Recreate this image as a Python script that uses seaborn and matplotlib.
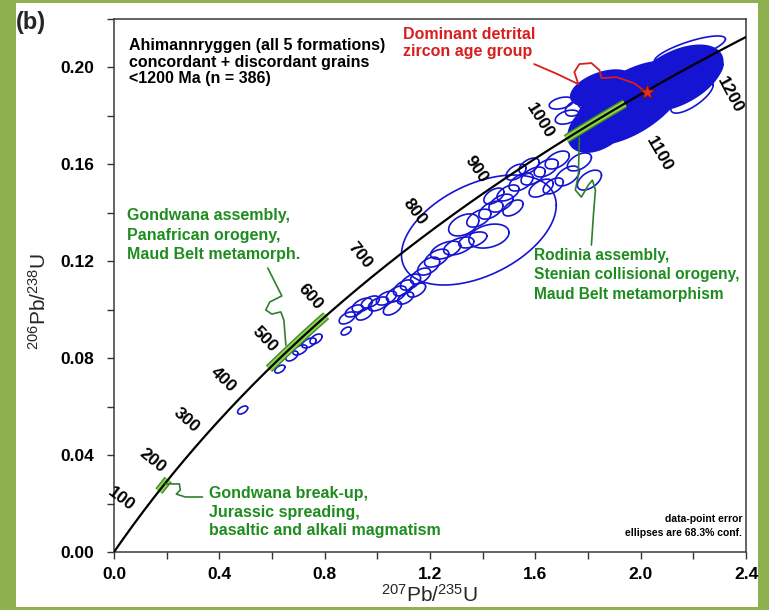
import numpy as np
import pandas as pd
import matplotlib
matplotlib.use("Agg")
import matplotlib.pyplot as plt
import seaborn as sns
from matplotlib.patches import Rectangle
from matplotlib.ticker import MultipleLocator

# ---------------- data ----------------
label_ages = [100, 200, 300, 400, 500, 600, 700, 800, 900, 1000, 1100, 1200]

# outline error ellipses: centre (207/235, 206/238), 1-sigma extents, correlation
ell_x = [0.4885, 0.6298, 0.6756, 0.7061, 0.7405, 0.7672, 0.8817,
         0.8855, 0.9122, 0.9427, 0.9733, 1.0038, 0.9504, 1.0344, 1.0573, 1.0725,
         1.0992, 1.1260, 1.1489, 1.1641, 1.1069,
         1.1947, 1.2252, 1.2595, 1.3092, 1.3626, 1.4237, 1.3282, 1.3855, 1.4313,
         1.4695, 1.4427, 1.4962, 1.5153, 1.5458, 1.5916, 1.6412, 1.5763, 1.5267,
         1.6221, 1.6832, 1.7214, 1.7672, 1.8053, 1.6679,
         1.6985, 1.7519, 1.7214, 1.7977, 1.8130,
         1.3855, 2.187, 2.195, 2.252]
ell_y = [0.0586, 0.0755, 0.0809, 0.0834, 0.0863, 0.0879, 0.0912,
         0.0966, 0.0995, 0.1019, 0.1032, 0.1024, 0.0982, 0.1048, 0.1007, 0.1065,
         0.1090, 0.1114, 0.1081, 0.1139, 0.1048,
         0.1180, 0.1213, 0.1246, 0.1263, 0.1288, 0.1304, 0.1350, 0.1378, 0.1411,
         0.1440, 0.1469, 0.1482, 0.1420, 0.1527, 0.1552, 0.1585, 0.1593, 0.1568,
         0.1502, 0.1618, 0.1552, 0.1610, 0.1535, 0.1511,
         0.1853, 0.1832, 0.1795, 0.1861, 0.1812,
         0.1329, 0.2072, 0.1878, 0.1969]
ell_sx = [0.0191, 0.0191, 0.0229, 0.0267, 0.0267, 0.0229, 0.0191,
          0.0305, 0.0344, 0.0382, 0.0344, 0.0382, 0.0305, 0.0382, 0.0344, 0.0382,
          0.0382, 0.0382, 0.0344, 0.0382, 0.0305,
          0.0420, 0.0458, 0.0573, 0.0573, 0.0534, 0.0763, 0.0573, 0.0458, 0.0458,
          0.0458, 0.0382, 0.0420, 0.0382, 0.0458, 0.0458, 0.0458, 0.0382, 0.0382,
          0.0458, 0.0458, 0.0458, 0.0458, 0.0458, 0.0382,
          0.0458, 0.0382, 0.0458, 0.0344, 0.0344,
          0.2939, 0.135, 0.0805, 0.060]
ell_sy = [0.00165, 0.00165, 0.00206, 0.00206, 0.00206, 0.00206, 0.00165,
          0.00248, 0.00248, 0.00289, 0.00248, 0.00289, 0.00248, 0.00289, 0.00289, 0.0033,
          0.0033, 0.0033, 0.00289, 0.0033, 0.00248,
          0.0037, 0.0037, 0.0037, 0.0037, 0.0033, 0.00495, 0.00454, 0.0037, 0.0037,
          0.0037, 0.0033, 0.0033, 0.0033, 0.0037, 0.0037, 0.0037, 0.0033, 0.0033,
          0.0037, 0.0037, 0.0041, 0.0037, 0.0041, 0.0033,
          0.00248, 0.0033, 0.00289, 0.00289, 0.00289,
          0.0227, 0.0058, 0.00665, 0.006]
ell_rho = [0.5, 0.5, 0.5, 0.5, 0.5, 0.5, 0.5,
           0.5, 0.5, 0.5, 0.5, 0.5, 0.5, 0.5, 0.5, 0.5,
           0.5, 0.5, 0.5, 0.5, 0.5,
           0.5, 0.5, 0.5, 0.5, 0.5, 0.3, 0.4, 0.5, 0.5,
           0.5, 0.5, 0.5, 0.5, 0.5, 0.5, 0.5, 0.5, 0.5,
           0.5, 0.5, 0.5, 0.5, 0.5, 0.5,
           0.4, 0.4, 0.4, 0.4, 0.4,
           0.45, 0.78, 0.75, 0.7]

# densely overlapping ellipses of the dominant group (drawn filled)
blob_x = [1.958, 2.137, 1.844, 1.851]
blob_y = [0.1853, 0.1956, 0.1762, 0.1915]
blob_sx = [0.2095, 0.1748, 0.1195, 0.1164]
blob_sy = [0.01717, 0.01354, 0.01114, 0.0074]
blob_rho = [0.58, 0.50, 0.41, 0.47]

star_x = [2.023]
star_y = [0.1899]

event_ages = [(160, 190), (470, 600), (1015, 1095)]

# annotation leader lines
red_lead_x = [1.5954, 1.6832, 1.7634, 1.7481, 1.7672, 1.8130, 1.8435, 1.8511, 1.9084, 1.9733, 2.0153]
red_lead_y = [0.2014, 0.1973, 0.1931, 0.1981, 0.2014, 0.2018, 0.1989, 0.1956, 0.1960, 0.1936, 0.1903]
gond_lead_x = [0.5840, 0.6374, 0.5916, 0.5763, 0.5992, 0.6336, 0.6450, 0.6527]
gond_lead_y = [0.1172, 0.1057, 0.1032, 0.0999, 0.0982, 0.0991, 0.0957, 0.0854]
rod_lead_x = [1.7672, 1.7634, 1.7519, 1.7748, 1.8015, 1.8168, 1.8282, 1.8206, 1.8130]
rod_lead_y = [0.1709, 0.1556, 0.1494, 0.1465, 0.1515, 0.1535, 0.1494, 0.1391, 0.1267]
brk_lead_x = [0.1947, 0.2481, 0.2519, 0.2366, 0.2710, 0.3359]
brk_lead_y = [0.0281, 0.0281, 0.0256, 0.0239, 0.0227, 0.0227]

LAM238 = 1.55125e-10
LAM235 = 9.8485e-10


def concordia(t_ma):
    t = np.asarray(t_ma, dtype=float) * 1e6
    return np.exp(LAM235 * t) - 1.0, np.exp(LAM238 * t) - 1.0


def ellipse_xy(cx, cy, sx, sy, rho, n=90):
    th = np.linspace(0, 2 * np.pi, n)
    x = cx + sx * np.cos(th)
    y = cy + sy * (rho * np.cos(th) + np.sqrt(1 - rho ** 2) * np.sin(th))
    return x, y


# ---------------- style ----------------
sns.set_theme(style="ticks")
plt.rcParams["font.family"] = ["Liberation Sans", "DejaVu Sans"]
plt.rcParams["mathtext.fontset"] = "custom"
plt.rcParams["mathtext.rm"] = "Liberation Sans"
plt.rcParams["mathtext.it"] = "Liberation Sans:italic"
plt.rcParams["mathtext.bf"] = "Liberation Sans:bold"

W, H = 769, 610
fig = plt.figure(figsize=(W / 100, H / 100), dpi=100, facecolor="#8eb04f")
fig.patches.append(Rectangle((16 / W, 1 - 607 / H), (758 - 16) / W, (607 - 3) / H,
                             transform=fig.transFigure, facecolor="white",
                             edgecolor="none", zorder=-10))
ax = fig.add_axes([114 / W, 1 - 552 / H, (746 - 114) / W, (552 - 19) / H])
ax.set_zorder(1)
ax.set_facecolor("white")
ax.set_xlim(0, 2.4)
ax.set_ylim(0, 0.22)

BLUE = "#1414d2"
GREEN_TXT = "#1f8c1f"
GREEN_LINE = "#2f7f2f"
RED = "#d81e1e"

# dense blob
for cx, cy, sx, sy, r in zip(blob_x, blob_y, blob_sx, blob_sy, blob_rho):
    ex, ey = ellipse_xy(cx, cy, sx, sy, r)
    ax.fill(ex, ey, color=BLUE, lw=1.2, zorder=2)

# outline ellipses
for cx, cy, sx, sy, r in zip(ell_x, ell_y, ell_sx, ell_sy, ell_rho):
    ex, ey = ellipse_xy(cx, cy, sx, sy, r)
    ax.plot(ex, ey, color=BLUE, lw=1.2, zorder=3)

# highlighted age intervals on concordia
for a0, a1 in event_ages:
    gx, gy = concordia(np.linspace(a0, a1, 50))
    ax.plot(gx, gy, color="#3c8a2a", lw=6.5, solid_capstyle="butt", zorder=4)
    ax.plot(gx, gy, color="#8fd64a", lw=4.5, solid_capstyle="butt", zorder=4)

# concordia curve
cx_, cy_ = concordia(np.linspace(0, 1300, 400))
df = pd.DataFrame({"x": cx_, "y": cy_})
sns.lineplot(data=df, x="x", y="y", sort=False, estimator=None, color="black",
             lw=1.6, ax=ax, zorder=5)

# star
sns.scatterplot(x=star_x, y=star_y, marker="*", s=130, color="#e8301e",
                edgecolor="#7a1010", linewidth=0.6, ax=ax, zorder=7)

# age labels along concordia
fig.canvas.draw()
for age in label_ages:
    px, py = concordia([age])
    px, py = float(px[0]), float(py[0])
    dx, dy = concordia([age + 1])
    p0 = ax.transData.transform((px, py))
    p1 = ax.transData.transform((float(dx[0]), float(dy[0])))
    ang = np.degrees(np.arctan2(p1[1] - p0[1], p1[0] - p0[0]))
    nx, ny = -np.sin(np.radians(ang)), np.cos(np.radians(ang))
    if age <= 1000:
        d = 10
        off = (nx * d, ny * d)
        ha = "right"
    else:
        d = 42 if age == 1100 else 24
        off = (-nx * d, -ny * d)
        ha = "left"
    ax.annotate(str(age), (px, py), xytext=off, textcoords="offset pixels",
                rotation=ang - 90, rotation_mode="anchor", ha=ha, va="center",
                fontsize=12.5, fontweight="bold", color="black", zorder=8,
                annotation_clip=False)

# leader lines
ax.plot(red_lead_x, red_lead_y, color=RED, lw=1.3, zorder=6, solid_joinstyle="round")
ax.plot(gond_lead_x, gond_lead_y, color=GREEN_LINE, lw=1.2, zorder=6, solid_joinstyle="round")
ax.plot(rod_lead_x, rod_lead_y, color=GREEN_LINE, lw=1.2, zorder=6, solid_joinstyle="round")
ax.plot(brk_lead_x, brk_lead_y, color=GREEN_LINE, lw=1.2, zorder=6, solid_joinstyle="round")

# texts
ax.text(0.0573, 0.2120, "Ahimannryggen (all 5 formations)\nconcordant + discordant grains\n<1200 Ma (n = 386)",
        ha="left", va="top", fontsize=11.5, fontweight="bold", linespacing=1.1, color="black")
ax.text(1.099, 0.2165, "Dominant detrital\nzircon age group", ha="left", va="top",
        fontsize=11.5, fontweight="bold", linespacing=1.1, color=RED)
ax.text(0.0496, 0.1420, "Gondwana assembly,\nPanafrican orogeny,\nMaud Belt metamorph.",
        ha="left", va="top", fontsize=11.5, fontweight="bold", linespacing=1.38, color=GREEN_TXT)
ax.text(1.5954, 0.1255, "Rodinia assembly,\nStenian collisional orogeny,\nMaud Belt metamorphism",
        ha="left", va="top", fontsize=11.2, fontweight="bold", linespacing=1.36, color=GREEN_TXT)
ax.text(0.3626, 0.0272, "Gondwana break-up,\nJurassic spreading,\nbasaltic and alkali magmatism",
        ha="left", va="top", fontsize=11.5, fontweight="bold", linespacing=1.3, color=GREEN_TXT)
ax.text(2.385, 0.0058, "data-point error\nellipses are 68.3% conf.", ha="right", va="bottom",
        fontsize=7.5, fontweight="bold", linespacing=1.45, color="black")

fig.text(16 / W, 1 - 22 / H, "(b)", ha="left", va="center", fontsize=17, fontweight="bold")

# axes
ax.xaxis.set_major_locator(MultipleLocator(0.4))
ax.xaxis.set_minor_locator(MultipleLocator(0.2))
ax.yaxis.set_major_locator(MultipleLocator(0.04))
ax.yaxis.set_minor_locator(MultipleLocator(0.02))
ax.xaxis.set_major_formatter(matplotlib.ticker.FormatStrFormatter("%.1f"))
ax.yaxis.set_major_formatter(matplotlib.ticker.FormatStrFormatter("%.2f"))
ax.tick_params(axis="both", which="both", direction="out", length=5, width=1,
               color="#333333", labelsize=12.5, labelcolor="black")
ax.tick_params(axis="x", which="major", pad=6)
ax.tick_params(axis="y", which="major", pad=9)
for lab in ax.get_xticklabels() + ax.get_yticklabels():
    lab.set_fontweight("bold")
for s in ax.spines.values():
    s.set_visible(True)
    s.set_color("#3a3a3a")
    s.set_linewidth(1.1)

ax.set_xlabel(r"$^{207}$Pb/$^{235}$U", fontsize=15, labelpad=1)
ax.set_ylabel(r"$^{206}$Pb/$^{238}$U", fontsize=15)
ax.yaxis.set_label_coords(-0.102, 0.47)
ax.grid(False)

fig.savefig("out.png", dpi=100, facecolor=fig.get_facecolor())
